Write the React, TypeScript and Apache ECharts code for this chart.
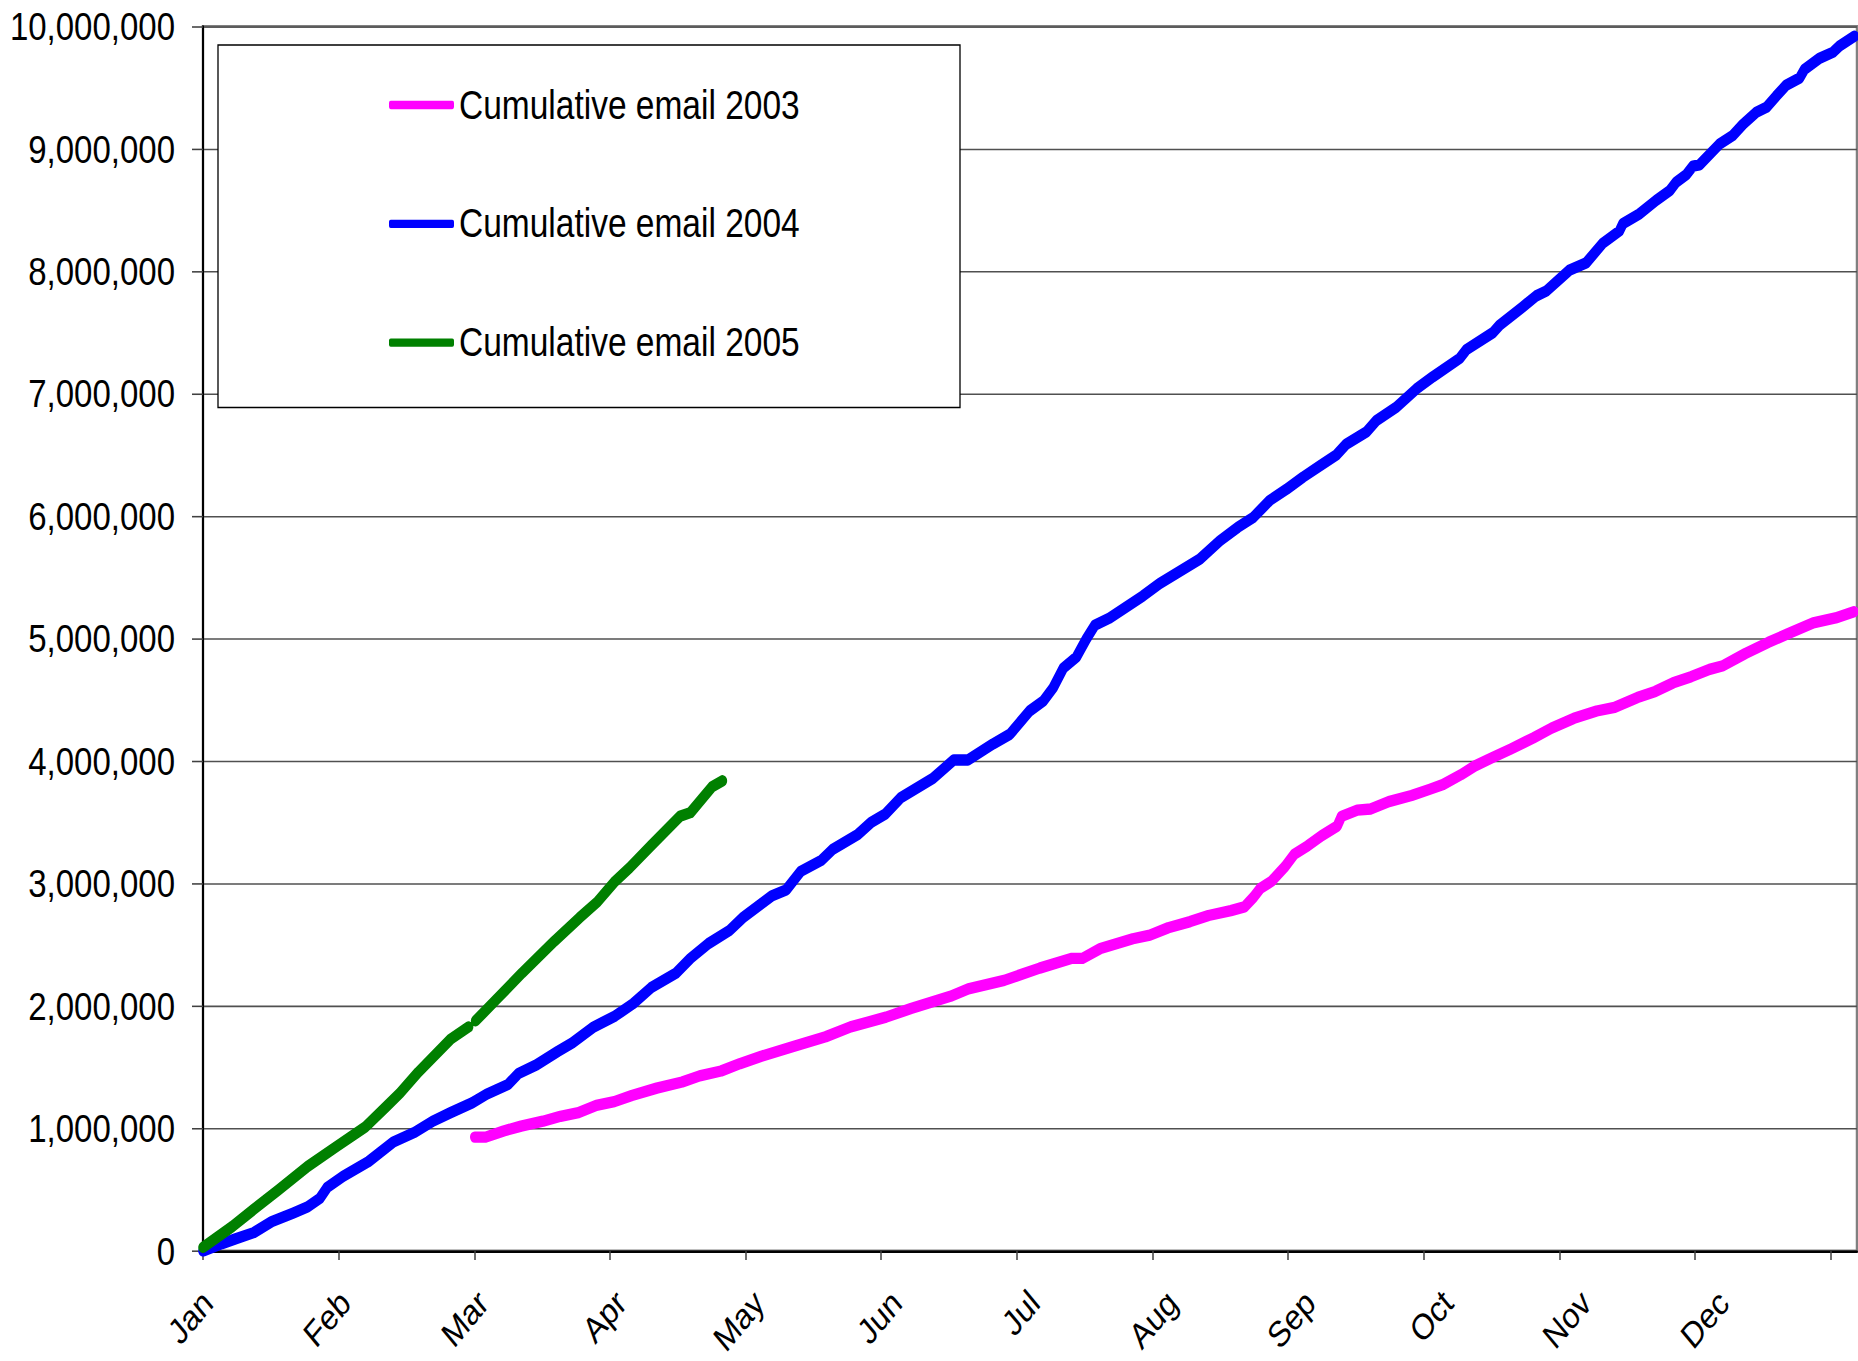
import React, { useEffect, useRef } from "react";
import * as echarts from "echarts";

// ---------- data (values in millions of emails, x = day index from Jan 1) ----------
const MONTHS = ["Jan", "Feb", "Mar", "Apr", "May", "Jun", "Jul", "Aug", "Sep", "Oct", "Nov", "Dec"];
const TICK_POSITIONS = [0, 31, 62, 93, 124, 155, 186, 217, 248, 279, 310, 341, 372];
// the month labels sit slightly right of their ticks, drifting a little further each month
const LABEL_POSITIONS = [1, 32.5, 64, 95.5, 127, 158.5, 190, 221.5, 253, 284.5, 316, 347.5];
const X_MIN = 0;
const X_MAX = 378;
const Y_MIN = 0;
const Y_MAX = 10000000;
const Y_STEP = 1000000;
const MILLION = 1000000;

const SERIES_NAMES = ["Cumulative email 2003", "Cumulative email 2004", "Cumulative email 2005"];
const SERIES_COLORS = ["#FF00FF", "#0000FF", "#008000"];

const DAYS_2003 = [
  62.1, 64.6, 68.7, 72.7, 77.7, 81.7, 85.8, 89.9, 94, 98, 103.7, 109.5, 113.5, 118.4, 122.7,
  127.6, 134.9, 142.3, 148, 156.1, 161.8, 170.8, 174.9, 183.1, 191.2, 198.6, 201, 205.1, 212.5,
  216.4, 220.6, 225.6, 229.8, 234.9, 238, 240.1, 241.6, 244.2, 247.3, 249.4, 252.5, 255.6, 259.2,
  260.2, 263.8, 266.9, 271, 276.2, 280.3, 283.4, 287.5, 290.6, 294.7, 298.9, 304, 308.2, 313.3,
  318.5, 322.6, 327.8, 331.9, 336, 340.1, 344.3, 347.4, 352.5, 357.7, 362.8, 368, 373.1, 377.3,
];
const EMAIL_2003 = [
  0.93, 0.93, 0.98, 1.02, 1.06, 1.1, 1.13, 1.19, 1.22, 1.27, 1.33, 1.38, 1.43, 1.47, 1.53,
  1.59, 1.67, 1.75, 1.83, 1.91, 1.98, 2.08, 2.14, 2.21, 2.31, 2.39, 2.39, 2.47, 2.55,
  2.58, 2.64, 2.69, 2.74, 2.78, 2.81, 2.89, 2.96, 3.02, 3.14, 3.24, 3.31, 3.39, 3.47,
  3.55, 3.6, 3.61, 3.67, 3.72, 3.77, 3.81, 3.89, 3.96, 4.03, 4.1, 4.19, 4.27, 4.35,
  4.41, 4.44, 4.52, 4.57, 4.64, 4.69, 4.75, 4.78, 4.88, 4.97, 5.05, 5.13, 5.17, 5.22,
];

const DAYS_2004 = [
  0, 4.3, 7.5, 11.6, 15.7, 20.6, 23.9, 26.7, 28.4, 32, 37.8, 43.5, 48.4, 52.5, 56.6, 61.5, 64.8,
  69.7, 72.1, 76.2, 81.1, 84.4, 89.3, 94.2, 98.3, 102.4, 108.1, 111.4, 115.5, 120.4, 123.3, 130,
  133.3, 136.6, 141.3, 143.9, 149.6, 152.7, 156, 159.4, 166.8, 171.6, 174.8, 180.5, 184.4, 188.9,
  192, 194.3, 196.6, 199.6, 201.9, 203.8, 207.2, 211, 214.8, 218.6, 223.2, 227.8, 232.4, 236.5,
  240, 243.8, 247.6, 251.4, 255.2, 259, 261.3, 265.9, 268.1, 272.7, 277.3, 281.1, 287.2, 288.7,
  294.8, 296.3, 301.6, 304.7, 307, 312.3, 316.1, 319.9, 323.7, 324.5, 328.3, 332.1, 335.2, 336.7,
  339, 340.5, 342, 346.6, 349.6, 351.9, 355, 357.3, 359.5, 361.8, 364.9, 366, 369.4, 372.5, 374,
  377.4,
];
const EMAIL_2004 = [
  0, 0.06, 0.1, 0.15, 0.24, 0.31, 0.36, 0.43, 0.52, 0.61, 0.73, 0.89, 0.97, 1.06, 1.13, 1.21, 1.28,
  1.36, 1.45, 1.52, 1.63, 1.7, 1.83, 1.92, 2.02, 2.15, 2.27, 2.39, 2.51, 2.62, 2.72, 2.9,
  2.95, 3.1, 3.19, 3.28, 3.4, 3.5, 3.57, 3.7, 3.86, 4.01, 4.01, 4.14, 4.22, 4.41,
  4.49, 4.6, 4.76, 4.85, 5.0, 5.11, 5.17, 5.26, 5.35, 5.45, 5.55, 5.65, 5.8, 5.91,
  5.99, 6.13, 6.22, 6.32, 6.41, 6.5, 6.59, 6.69, 6.78, 6.89, 7.04, 7.14, 7.29, 7.36,
  7.5, 7.56, 7.71, 7.8, 7.84, 8.01, 8.07, 8.23, 8.33, 8.39, 8.47, 8.58, 8.66, 8.73,
  8.79, 8.86, 8.87, 9.04, 9.11, 9.2, 9.3, 9.34, 9.43, 9.52, 9.58, 9.65, 9.74, 9.79, 9.84,
  9.92,
];

// null marks the one missing day that breaks the 2005 line
const DAYS_2005 = [
  0, 6.7, 11.6, 17.3, 23.9, 30.4, 37, 41.9, 45, 49.2, 56.6, 60.7, 61.5, 62.3, 67.2, 72.9, 80.3,
  86, 90.1, 94.2, 97.5, 102.4, 109, 111.4, 116.3, 118.7,
];
const EMAIL_2005 = [
  0.03, 0.2, 0.34, 0.5, 0.69, 0.85, 1.01, 1.18, 1.29, 1.46, 1.73, 1.83, null, 1.88, 2.06, 2.27, 2.53,
  2.72, 2.85, 3.02, 3.13, 3.31, 3.55, 3.58, 3.79, 3.84,
];

// The reference picture is vertically stretched (tall, narrow glyphs); the chart is drawn
// at a reduced height and stretched back with a CSS transform to reproduce that look.
const PAGE_W = 1858;
const PAGE_H = 1361;
const STRETCH = 1.2;
const CHART_H = Math.round(PAGE_H / STRETCH);
const SCALE_Y = PAGE_H / CHART_H;

function pairs(days: number[], vals: (number | null)[]) {
  return days.map((d, i) => [d, vals[i] === null ? "-" : (vals[i] as number) * MILLION]);
}

function monthLabel(v: number): string {
  let best = -1;
  let bestDist = Infinity;
  LABEL_POSITIONS.forEach((p, i) => {
    const d = Math.abs(p - v);
    if (d < bestDist) {
      bestDist = d;
      best = i;
    }
  });
  return bestDist < 0.5 ? MONTHS[best] : "";
}

export default function App() {
  const ref = useRef<HTMLDivElement>(null);

  useEffect(() => {
    document.body.style.margin = "0";
    if (!ref.current) return;
    const font = "'Liberation Sans', Arial, sans-serif";

    const chart = echarts.init(ref.current, undefined, { renderer: "svg" });
    const datasets = [pairs(DAYS_2003, EMAIL_2003), pairs(DAYS_2004, EMAIL_2004), pairs(DAYS_2005, EMAIL_2005)];
    const py = (v: number) => v / SCALE_Y; // full-page px -> chart px (vertical)

    chart.setOption({
      animation: false,
      backgroundColor: "#ffffff",
      textStyle: { fontFamily: font },
      grid: {
        left: 203,
        right: 1,
        top: py(26.5),
        bottom: py(PAGE_H - 1251),
        show: true,
        borderColor: "#808080",
        borderWidth: 2.5,
        backgroundColor: "transparent",
      },
      legend: {
        show: true,
        data: SERIES_NAMES,
        orient: "vertical",
        left: 218,
        top: py(45),
        padding: [33, 159, 37, 171],
        itemGap: 65,
        itemWidth: 65,
        itemHeight: 7,
        icon: "roundRect",
        backgroundColor: "#ffffff",
        borderColor: "#000000",
        borderWidth: 1.3,
        borderRadius: 0,
        selectedMode: false,
        textStyle: {
          fontFamily: font,
          fontSize: 33.5,
          color: "#000000",
          lineHeight: 33.5,
          width: 342,
          overflow: "none",
        },
      },
      xAxis: {
        type: "value",
        min: X_MIN,
        max: X_MAX,
        interval: 31,
        axisLine: { show: true, lineStyle: { color: "#000000", width: 2 } },
        axisTick: {
          show: true,
          length: 7.5,
          inside: false,
          customValues: TICK_POSITIONS,
          lineStyle: { color: "#404040", width: 1.5 },
        },
        axisLabel: {
          show: true,
          rotate: 45,
          margin: 38,
          fontFamily: font,
          fontSize: 30,
          color: "#000000",
          customValues: LABEL_POSITIONS,
          formatter: (v: number) => monthLabel(v),
        },
        splitLine: { show: false },
      },
      yAxis: {
        type: "value",
        min: Y_MIN,
        max: Y_MAX,
        interval: Y_STEP,
        axisLine: { show: true, lineStyle: { color: "#000000", width: 2 } },
        axisTick: { show: true, length: 11, lineStyle: { color: "#404040", width: 1.3 } },
        axisLabel: {
          show: true,
          margin: 28,
          fontFamily: font,
          fontSize: 33,
          color: "#000000",
          formatter: (v: number) => v.toLocaleString("en-US"),
        },
        splitLine: { show: true, lineStyle: { color: "#505050", width: 1.3 } },
      },
      series: SERIES_NAMES.map((name, i) => ({
        name,
        type: "line",
        data: datasets[i],
        showSymbol: false,
        symbol: "none",
        connectNulls: false,
        smooth: false,
        color: SERIES_COLORS[i],
        lineStyle: { color: SERIES_COLORS[i], width: 9.5, cap: "round", join: "round" },
        emphasis: { disabled: true },
        z: 3 + i,
      })),
    });

    return () => {
      chart.dispose();
    };
  }, []);

  return (
    <div style={{ width: PAGE_W, height: PAGE_H, overflow: "hidden", position: "relative" }}>
      <div
        ref={ref}
        style={{
          width: PAGE_W,
          height: CHART_H,
          transform: `scaleY(${SCALE_Y})`,
          transformOrigin: "0 0",
        }}
      />
    </div>
  );
}
